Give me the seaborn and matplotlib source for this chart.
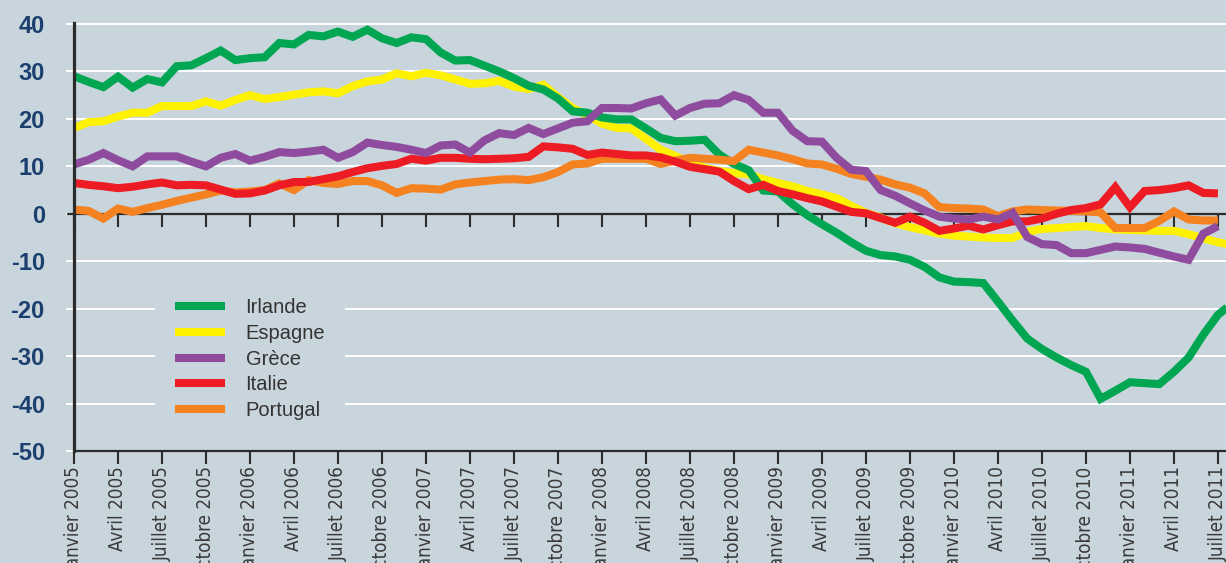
import matplotlib
matplotlib.use("Agg")
import matplotlib.pyplot as plt
import seaborn as sns
import pandas as pd
from matplotlib.lines import Line2D
from matplotlib import font_manager as fm

# ---------------- data (monthly, index 0 = janvier 2005) ----------------
tick_positions = list(range(0, 79, 3))
tick_labels = []
for year in range(2005, 2012):
    for mname in ["Janvier", "Avril", "Juillet", "Octobre"]:
        tick_labels.append(f"{mname} {year}")
tick_labels = tick_labels[:len(tick_positions)]

irlande = [29.0, 27.8, 26.7, 28.9, 26.6, 28.4, 27.7, 31.1, 31.3, 32.8,
           34.4, 32.4, 32.8, 33.0, 36.0, 35.7, 37.7, 37.4, 38.4, 37.3,
           38.8, 37.0, 36.0, 37.2, 36.8, 34.0, 32.3, 32.4, 31.2, 30.0,
           28.6, 27.0, 26.2, 24.3, 21.6, 21.3, 20.3, 19.9, 19.9, 18.0,
           16.0, 15.3, 15.4, 15.6, 12.5, 10.5, 9.2, 4.9, 4.7, 2.0,
           -0.3, -2.2, -4.0, -6.0, -7.8, -8.7, -9.0, -9.7, -11.2, -13.4,
           -14.3, -14.4, -14.6, -18.5, -22.5, -26.3, -28.5, -30.3, -31.9, -33.3,
           -39.0, -37.3, -35.5, -35.7, -35.9, -33.3, -30.3, -25.5, -21.3, -18.8]

espagne = [18.1, 19.3, 19.5, 20.5, 21.3, 21.3, 22.7, 22.7, 22.7, 23.7,
           22.8, 24.0, 25.0, 24.2, 24.6, 25.1, 25.6, 25.8, 25.4, 26.9,
           27.9, 28.3, 29.6, 29.0, 29.7, 29.2, 28.3, 27.4, 27.5, 28.0,
           26.8, 26.3, 27.2, 24.6, 22.3, 20.8, 19.0, 18.1, 18.0, 15.8,
           13.5, 12.2, 10.8, 9.7, 9.0, 8.6, 8.3, 7.3, 6.5, 5.8,
           4.8, 4.1, 3.3, 1.7, 0.2, -0.8, -2.0, -2.8, -3.5, -4.2,
           -4.6, -4.8, -5.0, -5.1, -5.1, -3.8, -3.2, -3.0, -2.8, -2.6,
           -3.0, -3.3, -3.4, -3.5, -3.6, -3.6, -4.3, -5.2, -6.0, -6.6]

grece = [10.4, 11.4, 12.8, 11.3, 10.0, 12.1, 12.1, 12.1, 11.0, 10.0,
         11.8, 12.6, 11.2, 12.0, 13.0, 12.8, 13.1, 13.5, 11.8, 13.0,
         15.0, 14.5, 14.1, 13.5, 12.8, 14.4, 14.6, 12.9, 15.5, 17.0,
         16.6, 18.1, 16.8, 18.0, 19.2, 19.5, 22.3, 22.3, 22.2, 23.3,
         24.1, 20.7, 22.3, 23.2, 23.3, 25.0, 24.0, 21.3, 21.3, 17.5,
         15.3, 15.2, 11.8, 9.3, 9.0, 5.0, 3.8, 2.2, 0.7, -0.6,
         -1.0, -1.2, -0.6, -1.2, 0.2, -4.9, -6.4, -6.6, -8.3, -8.3,
         -7.6, -6.9, -7.1, -7.4, -8.2, -9.0, -9.7, -4.2, -2.6]

italie = [6.5, 6.1, 5.8, 5.4, 5.7, 6.2, 6.6, 6.0, 6.1, 6.0,
          5.1, 4.2, 4.3, 4.9, 6.0, 6.7, 6.7, 7.3, 7.9, 8.8,
          9.6, 10.1, 10.5, 11.6, 11.2, 11.8, 11.8, 11.6, 11.5, 11.6,
          11.7, 12.0, 14.2, 14.0, 13.7, 12.4, 12.9, 12.6, 12.3, 12.3,
          11.9, 11.0, 9.9, 9.4, 8.9, 6.9, 5.2, 6.1, 4.8, 4.1,
          3.3, 2.6, 1.5, 0.4, 0.1, -0.9, -1.9, -0.6, -1.9, -3.6,
          -3.1, -2.5, -3.3, -2.4, -1.6, -1.6, -1.0, 0.0, 0.8, 1.2,
          2.0, 5.6, 1.4, 4.8, 5.0, 5.4, 6.0, 4.4, 4.3]

portugal = [0.9, 0.6, -1.0, 1.1, 0.4, 1.2, 1.9, 2.7, 3.4, 4.1,
            4.9, 4.5, 4.7, 5.0, 6.4, 5.0, 7.1, 6.5, 6.3, 6.9,
            6.9, 6.0, 4.4, 5.4, 5.3, 5.1, 6.2, 6.6, 6.9, 7.2,
            7.3, 7.1, 7.7, 8.8, 10.4, 10.6, 11.6, 11.6, 11.6, 11.6,
            10.5, 11.2, 11.8, 11.6, 11.4, 11.1, 13.5, 12.9, 12.3, 11.5,
            10.6, 10.4, 9.5, 8.4, 7.8, 7.2, 6.2, 5.5, 4.3, 1.4,
            1.2, 1.1, 0.9, -0.5, 0.5, 0.9, 0.8, 0.7, 0.6, 0.5,
            0.3, -3.0, -3.0, -3.0, -1.5, 0.5, -1.2, -1.4, -1.4]

countries = ["Irlande", "Espagne", "Grèce", "Italie", "Portugal"]
series = {"Irlande": irlande, "Espagne": espagne, "Grèce": grece,
          "Italie": italie, "Portugal": portugal}
colors = {"Irlande": "#00a651", "Espagne": "#fff200", "Grèce": "#8f4b9d",
          "Italie": "#ed1c24", "Portugal": "#f58220"}
draw_order = ["Espagne", "Irlande", "Portugal", "Italie", "Grèce"]
y_ticks = list(range(-50, 41, 10))

rows = []
for name in countries:
    for i, v in enumerate(series[name]):
        rows.append({"mois": i, "valeur": v, "pays": name})
df = pd.DataFrame(rows)

# ---------------- style ----------------
sns.set_theme(style="white")
plt.rcParams['font.family'] = ['Liberation Sans', 'DejaVu Sans']

installed = {f.name for f in fm.fontManager.ttflist}
if "Liberation Sans Narrow" in installed:
    narrow = dict(family="Liberation Sans Narrow")
else:
    narrow = dict(family="DejaVu Sans", fontstretch="condensed")

BG = "#c9d5dc"
DARK = "#2b2b2b"
LW = 5.8

fig = plt.figure(figsize=(12.26, 5.63), dpi=100, facecolor=BG)
ax = fig.add_axes([74 / 1226, 112 / 563, 1152 / 1226, 428.4 / 563])
ax.set_facecolor(BG)

sns.lineplot(data=df, x="mois", y="valeur", hue="pays", hue_order=draw_order,
             palette=colors, linewidth=LW, ax=ax, legend=False,
             estimator=None, sort=True)
for ln in ax.lines:
    ln.set_solid_joinstyle('miter')
    ln.set_solid_capstyle('butt')

ax.set_xlim(0, 78.55)
ax.set_ylim(-50, 40.3)
ax.set_xlabel("")
ax.set_ylabel("")

# grid
ax.set_axisbelow(True)
ax.yaxis.grid(True, color="white", linewidth=1.4)
ax.xaxis.grid(False)

# zero line
ax.axhline(0, xmin=-0.0055, xmax=1, color=DARK, linewidth=1.6, zorder=1.8,
           clip_on=False)

# spines
for s in ["top", "right"]:
    ax.spines[s].set_visible(False)
ax.spines["left"].set_color(DARK)
ax.spines["left"].set_linewidth(2.3)
ax.spines["bottom"].set_color(DARK)
ax.spines["bottom"].set_linewidth(1.6)

# y ticks
ax.set_yticks(y_ticks)
ax.set_yticklabels([str(v) for v in y_ticks])
ax.tick_params(axis="y", length=6, width=1.4, color="white", pad=15,
               labelsize=17, labelcolor="#1b3f6e", left=True)
for lbl in ax.get_yticklabels():
    lbl.set_fontweight("bold")
for t in ax.yaxis.get_major_ticks():
    if t.get_loc() in (0, -50):
        t.tick1line.set_color(DARK)

# x ticks
ax.set_xticks(tick_positions)
ax.set_xticklabels(tick_labels, rotation=90, **narrow)
ax.tick_params(axis="x", length=9, width=1.5, color=DARK, pad=2,
               labelsize=13.5, labelcolor="#3a3a3a", bottom=True)

# tick marks along the zero line
sec = ax.secondary_xaxis(50 / 90.3)
sec.set_alignment("bottom")
sec.set_xticks(tick_positions)
sec.tick_params(axis="x", length=9, width=1.5, color=DARK, labelbottom=False,
                bottom=True)
sec.spines["bottom"].set_visible(False)
sec.set_facecolor("none")

# legend
handles = [Line2D([], [], color=colors[c], linewidth=LW, solid_capstyle='butt')
           for c in countries]
leg = ax.legend(handles, countries, loc="upper left",
                bbox_to_anchor=(0.0703, 0.403), frameon=True, facecolor=BG,
                edgecolor="none", framealpha=1, fontsize=14.5,
                handlelength=2.5, handletextpad=1.0, labelspacing=0.33,
                borderpad=1.0, borderaxespad=0)
for txt in leg.get_texts():
    txt.set_color("#333333")

fig.savefig("out.png", dpi=100, facecolor=BG)
